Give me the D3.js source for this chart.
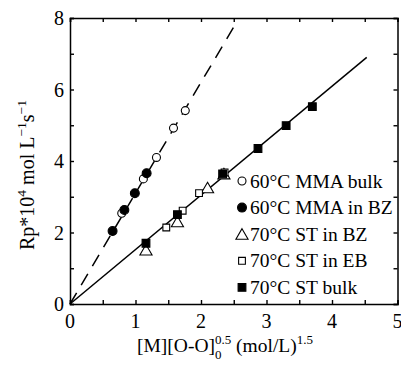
<!DOCTYPE html>
<html>
<head>
<meta charset="utf-8">
<script src="https://cdn.jsdelivr.net/npm/d3@7"></script>
<style>
  html, body { margin: 0; padding: 0; background: #fff; }
  svg { display: block; }
  text { font-family: "Liberation Serif", "Times New Roman", serif; fill: #000; }
</style>
</head>
<body>
<svg id="chart" width="401" height="370" font-family="Liberation Serif"></svg>
<script>
// Rate of polymerization vs [M][O-O]0^0.5
const mmaBulkX = [0.79, 1.12, 1.32, 1.58, 1.76];
const mmaBulkY = [2.54, 3.50, 4.10, 4.92, 5.41];
const mmaBzX = [0.65, 0.83, 0.99, 1.17];
const mmaBzY = [2.04, 2.63, 3.10, 3.66];
const stBzX = [1.16, 1.64, 2.10, 2.35];
const stBzY = [1.51, 2.30, 3.25, 3.64];
const stEbX = [1.47, 1.72, 1.97, 2.36];
const stEbY = [2.14, 2.61, 3.10, 3.68];
const stBulkX = [1.16, 1.64, 2.33, 2.87, 3.30, 3.70];
const stBulkY = [1.70, 2.50, 3.64, 4.35, 4.99, 5.52];

// Fitted lines through the origin: [x0, y0] -> [x1, y1]
const mmaFitX = [0, 2.51];
const mmaFitY = [0, 7.78];
const stFitX = [0, 4.53];
const stFitY = [0, 6.90];

const xTicks = [0, 1, 2, 3, 4, 5];
const yTicks = [0, 2, 4, 6, 8];
const legendLabels = ["60°C MMA bulk", "60°C MMA in BZ", "70°C ST in BZ", "70°C ST in EB", "70°C ST bulk"];

const svg = d3.select("#chart");
const L = 70, R = 397.5, T = 18, B = 304;
const x = d3.scaleLinear().domain([0, 5]).range([L, R]);
const y = d3.scaleLinear().domain([0, 8]).range([B, T]);

// Axes: ticks pointing inward on all four sides
const tickLen = 4;
const axB = d3.axisBottom(x).tickValues(d3.range(0, 5.01, 0.5)).tickSize(-tickLen).tickFormat("");
const axT = d3.axisTop(x).tickValues(d3.range(0, 5.01, 0.5)).tickSize(-tickLen).tickFormat("");
const axL = d3.axisLeft(y).tickValues(d3.range(0, 8.01, 1)).tickSize(-tickLen).tickFormat("");
const axR = d3.axisRight(y).tickValues(d3.range(0, 8.01, 1)).tickSize(-tickLen).tickFormat("");
function styleAxis(g) {
  g.selectAll("path.domain").attr("stroke", "#000").attr("stroke-width", 1.5);
  g.selectAll(".tick line").attr("stroke", "#000").attr("stroke-width", 1.4);
}
svg.append("g").attr("transform", `translate(0,${B})`).call(axB).call(styleAxis);
svg.append("g").attr("transform", `translate(0,${T})`).call(axT).call(styleAxis);
svg.append("g").attr("transform", `translate(${L},0)`).call(axL).call(styleAxis);
svg.append("g").attr("transform", `translate(${R},0)`).call(axR).call(styleAxis);

// Tick labels
svg.append("g").selectAll("text").data(xTicks).join("text")
  .attr("x", d => x(d)).attr("y", B + 24)
  .attr("text-anchor", "middle").attr("font-size", 20)
  .text(d => d);
svg.append("g").selectAll("text").data(yTicks).join("text")
  .attr("x", L - 6).attr("y", d => y(d) + 7)
  .attr("text-anchor", "end").attr("font-size", 20)
  .text(d => d);

// Fit lines
const line = d3.line().x(d => x(d[0])).y(d => y(d[1]));
svg.append("path")
  .datum(d3.zip(mmaFitX, mmaFitY))
  .attr("d", line).attr("fill", "none").attr("stroke", "#000")
  .attr("stroke-width", 1.5).attr("stroke-dasharray", "13,9");
svg.append("path")
  .datum(d3.zip(stFitX, stFitY))
  .attr("d", line).attr("fill", "none").attr("stroke", "#000")
  .attr("stroke-width", 1.5);

// Marker shapes
const shapes = {
  openCircle:  { type: d3.symbolCircle,   size: 50, fill: "#fff" },
  fillCircle:  { type: d3.symbolCircle,   size: 62, fill: "#000" },
  openTri:     { type: d3.symbolTriangle, size: 64, fill: "#fff" },
  openSquare:  { type: d3.symbolSquare,   size: 46, fill: "#fff" },
  fillSquare:  { type: d3.symbolSquare,   size: 60, fill: "#000" }
};
const series = [
  { xs: stBzX,    ys: stBzY,    s: shapes.openTri },
  { xs: stEbX,    ys: stEbY,    s: shapes.openSquare },
  { xs: stBulkX,  ys: stBulkY,  s: shapes.fillSquare },
  { xs: mmaBulkX, ys: mmaBulkY, s: shapes.openCircle },
  { xs: mmaBzX,   ys: mmaBzY,   s: shapes.fillCircle }
];
function drawMarker(g, s, cx, cy) {
  const dy = s.type === d3.symbolTriangle ? 1.5 : 0;
  g.append("path")
    .attr("d", d3.symbol().type(s.type).size(s.size)())
    .attr("transform", `translate(${cx},${cy + dy})`)
    .attr("fill", s.fill).attr("stroke", "#000").attr("stroke-width", 1.1);
}
const pts = svg.append("g");
series.forEach(sr => {
  sr.xs.forEach((xv, i) => drawMarker(pts, sr.s, x(xv), y(sr.ys[i])));
});

// Legend
const legendShapes = [shapes.openCircle, shapes.fillCircle, shapes.openTri, shapes.openSquare, shapes.fillSquare];
const lg = svg.append("g");
legendLabels.forEach((lab, i) => {
  const cy = 181 + i * 26.6;
  drawMarker(lg, legendShapes[i], 242, cy);
  lg.append("text").attr("x", 250).attr("y", cy + 6.5)
    .attr("font-size", 19.5).text(lab);
});

// X axis title with stacked super/subscript
const xt = svg.append("text").attr("font-size", 19.5).attr("x", 137).attr("y", 352);
xt.append("tspan").text("[M][O-O]");
const sup = xt.append("tspan").attr("font-size", 13).attr("dy", -8).text("0.5");
const supW = sup.node().getComputedTextLength();
xt.append("tspan").attr("font-size", 13).attr("dx", -supW).attr("dy", 15).text("0");
const zeroW = 6.5;
xt.append("tspan").attr("dx", supW - zeroW).attr("dy", -7).text(" (mol/L)");
xt.append("tspan").attr("font-size", 13).attr("dy", -8).text("1.5");

// Y axis title
const yt = svg.append("text").attr("font-size", 20)
  .attr("transform", `translate(34,${175}) rotate(-90)`)
  .attr("text-anchor", "middle");
yt.append("tspan").text("Rp*10");
yt.append("tspan").attr("font-size", 13.5).attr("dy", -8).text("4");
yt.append("tspan").attr("dy", 8).text(" mol L");
yt.append("tspan").attr("font-size", 13.5).attr("dy", -8).text("−1");
yt.append("tspan").attr("dy", 8).text("s");
yt.append("tspan").attr("font-size", 13.5).attr("dy", -8).text("−1");
</script>
</body>
</html>
